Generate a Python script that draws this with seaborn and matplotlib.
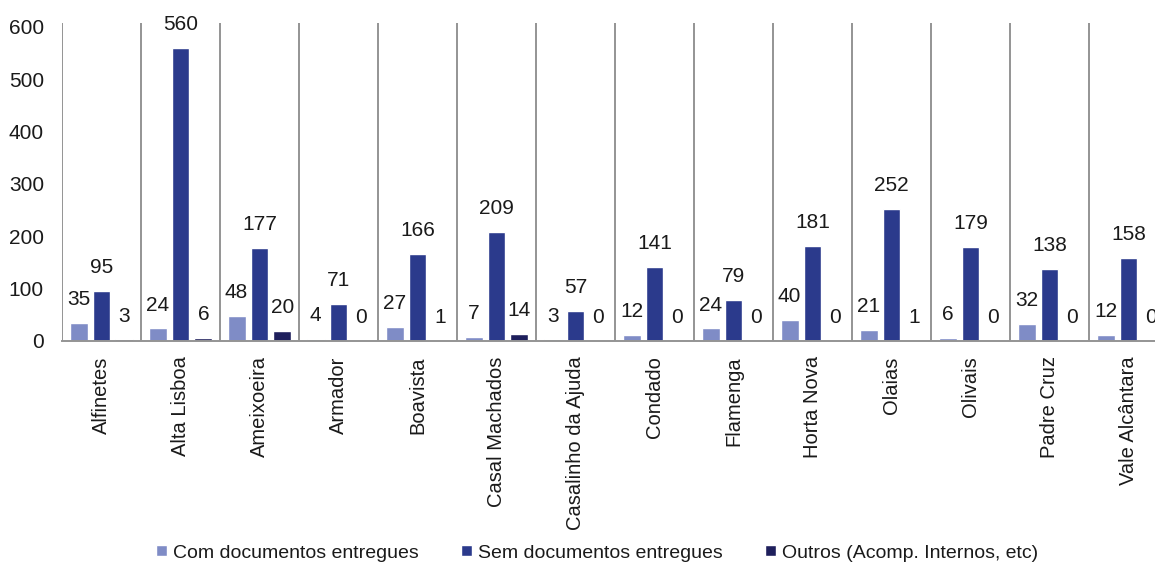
import matplotlib
matplotlib.use("Agg")
import matplotlib.pyplot as plt
import seaborn as sns
import pandas as pd
import numpy as np

bairros = ["Alfinetes", "Alta Lisboa", "Ameixoeira", "Armador", "Boavista",
           "Casal Machados", "Casalinho da Ajuda", "Condado", "Flamenga",
           "Horta Nova", "Olaias", "Olivais", "Padre Cruz", "Vale Alcântara"]
series = ["Com documentos entregues", "Sem documentos entregues",
          "Outros (Acomp. Internos, etc)"]
com_docs = [35, 24, 48, 4, 27, 7, 3, 12, 24, 40, 21, 6, 32, 12]
sem_docs = [95, 560, 177, 71, 166, 209, 57, 141, 79, 181, 252, 179, 138, 158]
outros = [3, 6, 20, 0, 1, 14, 0, 0, 0, 0, 1, 0, 0, 0]
y_ticks = [0, 100, 200, 300, 400, 500, 600]
palette = ["#7f8cc6", "#2b3a8c", "#1e1f5c"]

df = pd.DataFrame({
    "bairro": bairros * 3,
    "serie": [series[0]] * 14 + [series[1]] * 14 + [series[2]] * 14,
    "valor": com_docs + sem_docs + outros,
})

sns.set_theme(style="white")
plt.rcParams["font.family"] = ["Liberation Sans", "DejaVu Sans"]
plt.rcParams["text.color"] = "#1a1a1a"

fig = plt.figure(figsize=(11.55, 5.73), dpi=100)
ax = fig.add_axes([62 / 1155, 1 - 341 / 573, 1106 / 1155, 318 / 573])

sns.barplot(data=df, x="bairro", y="valor", hue="serie", hue_order=series,
            palette=palette, width=0.87, gap=0.22, saturation=1,
            errorbar=None, ax=ax, legend=True)

for cont in ax.containers:
    ax.bar_label(cont, labels=[f"{v:.0f}" for v in cont.datavalues],
                 padding=10, fontsize=15, color="#1a1a1a")

ax.set_ylim(0, 607)
ax.set_xlim(-0.5, len(bairros) - 0.5)
ax.set_yticks(y_ticks)
ax.set_yticklabels([str(t) for t in y_ticks], fontsize=15, color="#1a1a1a")
ax.tick_params(axis="y", length=0, pad=13)
ax.set_xticks(range(len(bairros)))
ax.set_xticklabels(bairros, rotation=90, fontsize=14.5, color="#1a1a1a")
ax.tick_params(axis="x", which="major", length=0, pad=11)
ax.set_xticks(np.arange(-0.5, len(bairros), 1.0), minor=True)
ax.tick_params(axis="x", which="minor", length=8, width=1.4, color="#949494",
               direction="out")
ax.grid(axis="x", which="minor", color="#949494", linewidth=1.4)
ax.grid(axis="x", which="major", visible=False)
ax.grid(axis="y", visible=False)
ax.set_xlabel("")
ax.set_ylabel("")
for side in ["left", "right", "top"]:
    ax.spines[side].set_visible(False)
ax.spines["bottom"].set_color("#949494")
ax.spines["bottom"].set_linewidth(1.4)

handles, labels = ax.get_legend_handles_labels()
ax.legend_.remove()
fig.legend(handles, labels, loc="center", bbox_to_anchor=(597 / 1155, 1 - 553 / 573),
           ncol=3, frameon=False, fontsize=14, handlelength=0.55, handleheight=0.55,
           handletextpad=0.3, columnspacing=2.2)

fig.savefig("out.png", dpi=100, facecolor="white")
